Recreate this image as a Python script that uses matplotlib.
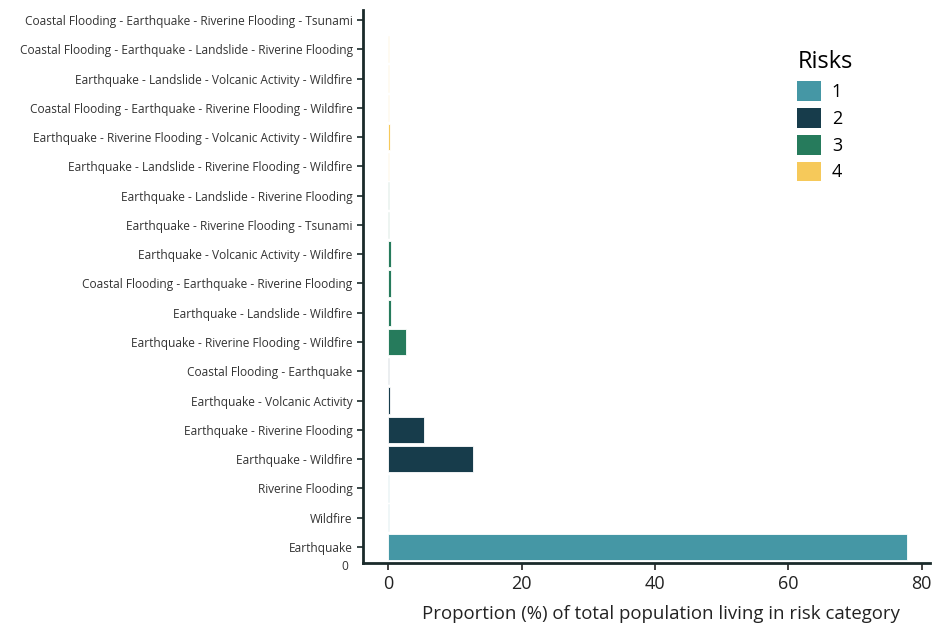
import matplotlib
matplotlib.use("Agg")
import matplotlib.pyplot as plt
from matplotlib.patches import Patch

plt.rcParams['font.family'] = ['Open Sans', 'DejaVu Sans']

categories = [
    "Earthquake",
    "Wildfire",
    "Riverine Flooding",
    "Earthquake - Wildfire",
    "Earthquake - Riverine Flooding",
    "Earthquake - Volcanic Activity",
    "Coastal Flooding - Earthquake",
    "Earthquake - Riverine Flooding - Wildfire",
    "Earthquake - Landslide - Wildfire",
    "Coastal Flooding - Earthquake - Riverine Flooding",
    "Earthquake - Volcanic Activity - Wildfire",
    "Earthquake - Riverine Flooding - Tsunami",
    "Earthquake - Landslide - Riverine Flooding",
    "Earthquake - Landslide - Riverine Flooding - Wildfire",
    "Earthquake - Riverine Flooding - Volcanic Activity - Wildfire",
    "Coastal Flooding - Earthquake - Riverine Flooding - Wildfire",
    "Earthquake - Landslide - Volcanic Activity - Wildfire",
    "Coastal Flooding - Earthquake - Landslide - Riverine Flooding",
    "Coastal Flooding - Earthquake - Riverine Flooding - Tsunami",
]
values = [77.8, 0.2, 0.1, 12.8, 5.4, 0.3, 0.15, 2.7, 0.4, 0.4, 0.4, 0.1, 0.1,
          0.2, 0.3, 0.2, 0.2, 0.2, 0.05]
risk_count = [1, 1, 1, 2, 2, 2, 2, 3, 3, 3, 3, 3, 3, 4, 4, 4, 4, 4, 4]
risk_labels = ["1", "2", "3", "4"]
risk_colors = {1: "#4597a5", 2: "#173c4b", 3: "#267b5c", 4: "#f6c95a"}

fig = plt.figure(figsize=(9.43, 6.27), dpi=100)
ax = fig.add_axes([0.385, 0.102, 0.601, 0.882])

ypos = list(range(len(categories)))
ax.barh(ypos, values, height=0.9,
        color=[risk_colors[r] for r in risk_count],
        edgecolor="white", linewidth=0.6)

ax.set_yticks(ypos)
ax.set_yticklabels(categories, fontsize=8.6, color="#333333")
ax.set_ylim(-0.55, 18.34)
ax.set_xlim(-3.75, 81.2)
ax.set_xticks([0, 20, 40, 60, 80])
ax.tick_params(axis='x', labelsize=13, colors="#222222", length=5, width=1.2)
ax.tick_params(axis='y', length=4, width=1.2, colors="#1a2a2a", labelcolor="#333333")
ax.set_xlabel("Proportion (%) of total population living in risk category",
              fontsize=13.4, color="#222222")
ax.xaxis.set_label_coords(0.525, -0.075)

for s in ["top", "right"]:
    ax.spines[s].set_visible(False)
for s in ["left", "bottom"]:
    ax.spines[s].set_linewidth(2)
    ax.spines[s].set_color("#1a2a2a")

ax.text(-0.026, -0.007, "0", transform=ax.transAxes, ha="right", va="center",
        fontsize=8.6, color="#333333")

handles = [Patch(facecolor=risk_colors[i + 1], edgecolor="none", label=l)
           for i, l in enumerate(risk_labels)]
leg = ax.legend(handles=handles, title="Risks", loc="upper left",
                bbox_to_anchor=(0.838, 0.931), bbox_transform=fig.transFigure,
                frameon=False, fontsize=13, title_fontsize=17,
                handlelength=1.3, handleheight=1.3, handletextpad=0.6,
                labelspacing=0.38, alignment="left", borderaxespad=0)

fig.savefig("out.png", dpi=100)
